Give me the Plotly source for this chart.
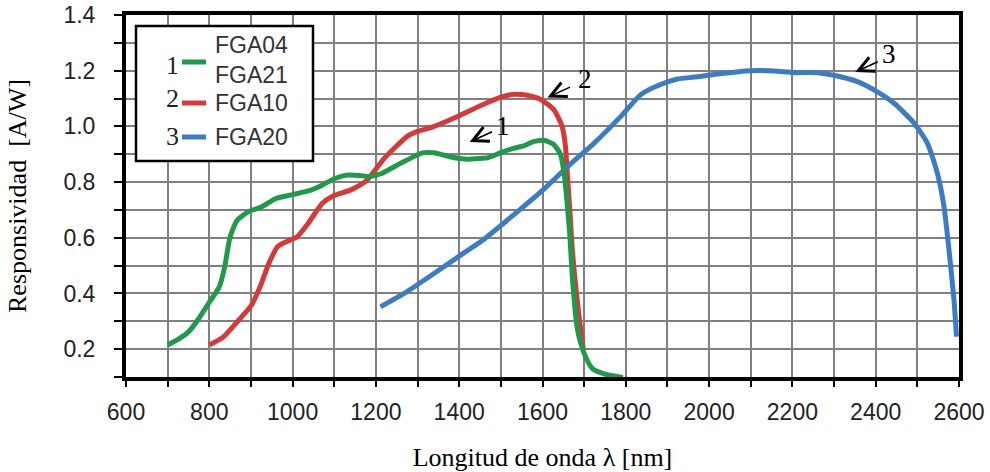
import plotly.graph_objects as go

# ---------------- data ----------------
g_nm = [700, 725, 750, 772, 798, 824, 837, 850, 867, 893, 926, 960, 1000, 1037, 1071, 1100, 1130,
        1160, 1185, 1212, 1260, 1312, 1340, 1380, 1420, 1451, 1470, 1499, 1530, 1555, 1578, 1603,
        1627, 1643, 1652, 1660, 1666, 1672, 1684, 1700, 1720, 1755, 1793]
g_val = [0.215, 0.235, 0.262, 0.304, 0.364, 0.424, 0.496, 0.604, 0.663, 0.693, 0.711, 0.741, 0.755,
         0.768, 0.789, 0.812, 0.825, 0.824, 0.820, 0.830, 0.868, 0.905, 0.905, 0.890, 0.882, 0.885,
         0.888, 0.905, 0.921, 0.930, 0.945, 0.950, 0.935, 0.900, 0.830, 0.710, 0.600, 0.450, 0.270,
         0.185, 0.130, 0.108, 0.098]

r_nm = [800, 834, 868, 900, 922, 943, 964, 985, 1011, 1037, 1071, 1097, 1140, 1178, 1220, 1276,
        1300, 1340, 1388, 1452, 1500, 1532, 1563, 1595, 1627, 1647, 1655, 1660, 1666, 1672, 1686,
        1698]
r_val = [0.215, 0.244, 0.300, 0.355, 0.424, 0.508, 0.568, 0.586, 0.604, 0.651, 0.723, 0.750, 0.772,
         0.806, 0.885, 0.965, 0.982, 1.000, 1.030, 1.075, 1.105, 1.115, 1.112, 1.097, 1.060, 1.000,
         0.930, 0.820, 0.690, 0.550, 0.340, 0.200]

b_nm = [1211, 1268, 1328, 1400, 1457, 1525, 1600, 1660, 1724, 1788, 1836, 1876, 1924, 1964, 2020,
        2100, 2156, 2204, 2260, 2308, 2356, 2396, 2444, 2492, 2524, 2548, 2564, 2576, 2588, 2594]
b_val = [0.352, 0.400, 0.460, 0.534, 0.592, 0.675, 0.770, 0.855, 0.940, 1.036, 1.114, 1.146, 1.170,
         1.177, 1.188, 1.200, 1.199, 1.193, 1.193, 1.181, 1.161, 1.131, 1.083, 1.012, 0.940, 0.832,
         0.712, 0.556, 0.376, 0.245]

series_names = ["FGA04 / FGA21", "FGA10", "FGA20"]
series_nums = ["1", "2", "3"]
legend_labels = ["FGA04<br>FGA21", "FGA10", "FGA20"]
colors = ["#1f9a4b", "#d43a3a", "#3b7cc3"]

# arrow tips (nm, value) and number label positions
arrow_tips = [(1425, 0.944), (1612, 1.104), (2351, 1.195)]
label_pos = [(1506, 1.0), (1703, 1.17), (2433, 1.26)]

x_title = "Longitud de onda λ [nm]"
y_title = "Responsividad  [A/W]"

# ---------------- figure ----------------
W, H = 990, 472
ML, MR, MT, MB = 126, 31, 15, 95
PW, PH = W - ML - MR, H - MT - MB


def px(xp, yp):
    """convert page pixel to paper coords"""
    return (xp - ML) / PW, (H - MB - yp) / PH


fig = go.Figure()
traces = [(r_nm, r_val, colors[1], series_names[1]),
          (b_nm, b_val, colors[2], series_names[2]),
          (g_nm, g_val, colors[0], series_names[0])]
for nm, val, c, name in traces:
    fig.add_trace(go.Scatter(x=nm, y=val, mode="lines", name=name,
                             line=dict(color=c, width=5, shape="spline", smoothing=0.6),
                             showlegend=False, hoverinfo="x+y+name"))

shapes = []
# white patches behind the numbered arrows (cover grid only)
for (x0, y0, x1, y1) in [(465, 112, 517, 143), (550, 64, 604, 101), (862, 30, 904, 71)]:
    a0 = px(x0, y1)
    a1 = px(x1, y0)
    shapes.append(dict(type="rect", xref="paper", yref="paper", x0=a0[0], y0=a0[1], x1=a1[0], y1=a1[1],
                       fillcolor="white", line=dict(width=0), layer="between"))

# legend box
b0 = px(136, 161)
b1 = px(313, 26)
shapes.append(dict(type="rect", xref="paper", yref="paper", x0=b0[0], y0=b0[1], x1=b1[0], y1=b1[1],
                   fillcolor="white", line=dict(color="black", width=2.5), layer="above"))
legend_y = [62, 103, 137]
for c, ly in zip(colors, legend_y):
    p0 = px(182, ly)
    p1 = px(206, ly)
    shapes.append(dict(type="line", xref="paper", yref="paper", x0=p0[0], y0=p0[1], x1=p1[0], y1=p1[1],
                       line=dict(color=c, width=5), layer="above"))

annotations = []
num_y = [65, 98, 136]
for n, ny in zip(series_nums, num_y):
    p = px(172, ny)
    annotations.append(dict(x=p[0], y=p[1], xref="paper", yref="paper", text=n, showarrow=False,
                            font=dict(family="Liberation Serif, Times New Roman, serif", size=26, color="#222"),
                            xanchor="center", yanchor="middle"))
text_y = [60, 103, 137]
for t, ty in zip(legend_labels, text_y):
    p = px(213, ty)
    annotations.append(dict(x=p[0], y=p[1], xref="paper", yref="paper", text=t, showarrow=False,
                            font=dict(family="Liberation Sans, Arial, sans-serif", size=23, color="#333"),
                            xanchor="left", yanchor="middle", align="left"))

# numbered arrows
for (tx, ty), (lx, ly), n in zip(arrow_tips, label_pos, series_nums):
    annotations.append(dict(x=tx, y=ty, xref="x", yref="y", text="", showarrow=True,
                            ax=24, ay=-11, arrowhead=5, arrowsize=1.9, arrowwidth=1.6,
                            arrowcolor="black", standoff=0))
    annotations.append(dict(x=lx, y=ly, xref="x", yref="y", text=n, showarrow=False,
                            font=dict(family="Liberation Serif, Times New Roman, serif", size=27, color="black"),
                            xanchor="center", yanchor="middle"))

grid_col = "#808080"
fig.update_layout(
    width=W, height=H,
    margin=dict(l=ML, r=MR, t=MT, b=MB),
    paper_bgcolor="white", plot_bgcolor="white",
    shapes=shapes, annotations=annotations,
    showlegend=False,
)
fig.update_xaxes(
    range=[600, 2600], dtick=200, tick0=600,
    showgrid=True, gridcolor=grid_col, gridwidth=2,
    showline=True, linecolor="black", linewidth=4, mirror=True,
    ticks="outside", ticklen=6, tickwidth=1.5, tickcolor="black",
    ticklabelstandoff=5,
    tickfont=dict(family="Liberation Sans, Arial, sans-serif", size=23, color="#222"),
    minor=dict(dtick=100, showgrid=True, gridcolor=grid_col, gridwidth=2,
               ticks="outside", ticklen=6, tickwidth=1.5, tickcolor="black"),
    title=dict(text=x_title, standoff=26,
               font=dict(family="Liberation Serif, Times New Roman, serif", size=26, color="black")),
    zeroline=False, automargin=False,
)
fig.update_yaxes(
    range=[0.1, 1.4], dtick=0.2, tick0=0.2, tickformat=".1f",
    showgrid=True, gridcolor=grid_col, gridwidth=2,
    showline=True, linecolor="black", linewidth=4, mirror=True,
    ticks="outside", ticklen=8, tickwidth=1.5, tickcolor="black",
    ticklabelstandoff=14,
    tickfont=dict(family="Liberation Sans, Arial, sans-serif", size=23, color="#222"),
    minor=dict(dtick=0.1, showgrid=True, gridcolor=grid_col, gridwidth=2,
               ticks="outside", ticklen=8, tickwidth=1.5, tickcolor="black"),
    title=dict(text=y_title, standoff=30,
               font=dict(family="Liberation Serif, Times New Roman, serif", size=26, color="black")),
    zeroline=False, automargin=False,
)

fig.write_html("out.html")
